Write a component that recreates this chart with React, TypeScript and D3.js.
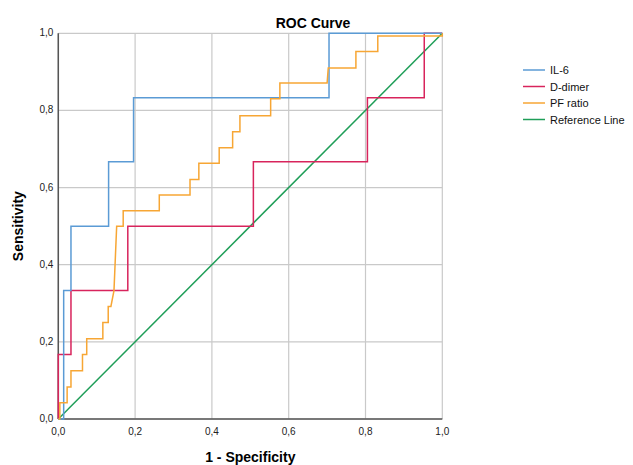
import { useEffect, useRef } from 'react'
import * as d3 from 'd3'

// ROC points (1 - specificity, sensitivity)
const il6Fpr = [0, 0.014, 0.014, 0.033, 0.033, 0.131, 0.131, 0.196, 0.196, 0.705, 0.705, 1]
const il6Tpr = [0, 0, 0.333, 0.333, 0.5, 0.5, 0.667, 0.667, 0.833, 0.833, 1, 1]

const ddimerFpr = [0, 0, 0.033, 0.033, 0.181, 0.181, 0.508, 0.508, 0.805, 0.805, 0.953, 0.953, 1]
const ddimerTpr = [0, 0.167, 0.167, 0.333, 0.333, 0.5, 0.5, 0.667, 0.667, 0.833, 0.833, 1, 1]

const pfFpr = [
  0, 0.004, 0.004, 0.023, 0.023, 0.033, 0.033, 0.063, 0.063, 0.074, 0.074, 0.116, 0.116,
  0.13, 0.13, 0.137, 0.145, 0.152, 0.169, 0.169, 0.263, 0.263, 0.343, 0.343, 0.366, 0.366,
  0.419, 0.419, 0.454, 0.454, 0.473, 0.473, 0.553, 0.553, 0.577, 0.577, 0.7, 0.703, 0.775,
  0.775, 0.832, 0.832, 1, 1
]
const pfTpr = [
  0, 0, 0.042, 0.042, 0.083, 0.083, 0.125, 0.125, 0.167, 0.167, 0.208, 0.208, 0.25,
  0.25, 0.292, 0.292, 0.333, 0.5, 0.5, 0.54, 0.54, 0.581, 0.581, 0.621, 0.621, 0.663,
  0.663, 0.703, 0.703, 0.745, 0.745, 0.786, 0.786, 0.83, 0.83, 0.871, 0.871, 0.91, 0.91,
  0.953, 0.953, 0.993, 0.993, 1
]

const refFpr = [0, 1]
const refTpr = [0, 1]

const seriesNames = ['IL-6', 'D-dimer', 'PF ratio', 'Reference Line']
const seriesColors = ['#5b9bd5', '#d8245c', '#f7a634', '#1f9e58']
const ticks = [0, 0.2, 0.4, 0.6, 0.8, 1]

export default function App() {
  const ref = useRef<SVGSVGElement>(null)

  useEffect(() => {
    const svg = d3.select(ref.current)
    svg.selectAll('*').remove()

    const font = '"Liberation Sans", Arial, sans-serif'
    const x = d3.scaleLinear().domain([0, 1]).range([58.3, 442.3])
    const y = d3.scaleLinear().domain([0, 1]).range([419, 33.3])
    const fmt = (d: number) => d.toFixed(1).replace('.', ',')

    // grid
    const grid = svg.append('g').attr('stroke', '#c9c9c9').attr('stroke-width', 1.2)
    ticks.forEach(t => {
      grid.append('line').attr('x1', x(t)).attr('x2', x(t)).attr('y1', y(0)).attr('y2', y(1))
      grid.append('line').attr('x1', x(0)).attr('x2', x(1)).attr('y1', y(t)).attr('y2', y(t))
    })

    // axis lines
    svg.append('line').attr('x1', x(0)).attr('x2', x(0)).attr('y1', y(0)).attr('y2', y(1))
      .attr('stroke', '#555').attr('stroke-width', 1.5)
    svg.append('line').attr('x1', x(0)).attr('x2', x(1)).attr('y1', y(0)).attr('y2', y(0))
      .attr('stroke', '#555').attr('stroke-width', 1.5)

    // tick labels
    svg.append('g').selectAll('text').data(ticks).enter().append('text')
      .attr('x', x(0) - 5).attr('y', d => y(d) + 3)
      .attr('text-anchor', 'end').attr('font-family', font).attr('font-size', 10).attr('fill', '#222')
      .text(fmt)
    svg.append('g').selectAll('text').data(ticks).enter().append('text')
      .attr('x', d => x(d)).attr('y', y(0) + 16)
      .attr('text-anchor', 'middle').attr('font-family', font).attr('font-size', 10).attr('fill', '#222')
      .text(fmt)

    // series
    const line = d3.line<[number, number]>().x(d => x(d[0])).y(d => y(d[1]))
    const zip = (a: number[], b: number[]) => a.map((v, i) => [v, b[i]] as [number, number])
    const series = [
      zip(il6Fpr, il6Tpr),
      zip(ddimerFpr, ddimerTpr),
      zip(pfFpr, pfTpr),
      zip(refFpr, refTpr)
    ]
    const order = [3, 1, 0, 2]
    order.forEach(i => {
      svg.append('path').datum(series[i]).attr('d', line)
        .attr('fill', 'none').attr('stroke', seriesColors[i]).attr('stroke-width', 1.5)
    })

    // titles
    svg.append('text').attr('x', 313).attr('y', 28).attr('text-anchor', 'middle')
      .attr('font-family', font).attr('font-size', 14).attr('font-weight', 'bold').text('ROC Curve')
    svg.append('text').attr('x', (x(0) + x(1)) / 2).attr('y', 462).attr('text-anchor', 'middle')
      .attr('font-family', font).attr('font-size', 14).attr('font-weight', 'bold').text('1 - Specificity')
    svg.append('text').attr('transform', `translate(23,${(y(0) + y(1)) / 2}) rotate(-90)`)
      .attr('text-anchor', 'middle')
      .attr('font-family', font).attr('font-size', 14).attr('font-weight', 'bold').text('Sensitivity')

    // legend
    const lg = svg.append('g').attr('transform', 'translate(523,70)')
    seriesNames.forEach((name, i) => {
      lg.append('line').attr('x1', 0).attr('x2', 22).attr('y1', i * 16.5).attr('y2', i * 16.5)
        .attr('stroke', seriesColors[i]).attr('stroke-width', 1.5)
      lg.append('text').attr('x', 27).attr('y', i * 16.5 + 4)
        .attr('font-family', font).attr('font-size', 11).attr('fill', '#111').text(name)
    })
  }, [])

  return (
    <svg ref={ref} width={633} height={465}
      style={{ position: 'absolute', left: 0, top: 0, background: '#fff' }} />
  )
}
